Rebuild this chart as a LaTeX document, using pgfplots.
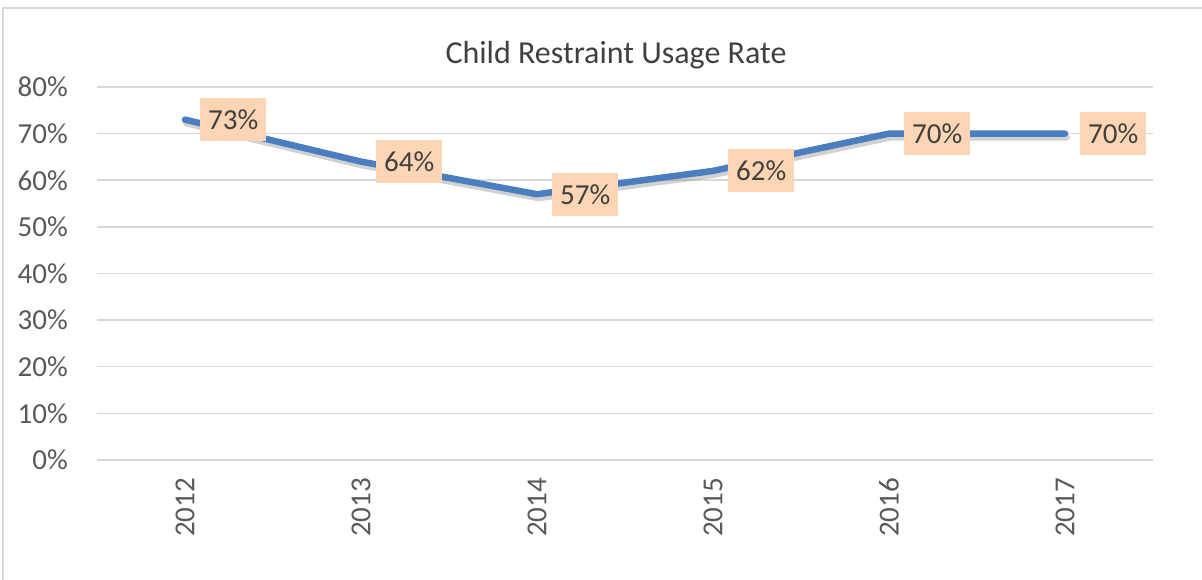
\documentclass[border=0pt]{standalone}
\usepackage{pgfplots}
\pgfplotsset{compat=1.18}
\usepackage{fontspec}
\setmainfont{Carlito}
\definecolor{lineblue}{HTML}{4A7EBE}
\definecolor{peach}{HTML}{FCD5B5}
\definecolor{gridgray}{HTML}{D9D9D9}
\definecolor{ticktext}{HTML}{595959}
\definecolor{labeltext}{HTML}{404040}
\begin{document}
\begin{tikzpicture}[x=1pt,y=1pt]
\path[use as bounding box] (-97,-120) rectangle (1105,460);
\draw[gridgray,line width=1.5pt] (-94,-125) -- (-94,452) -- (1110,452);
\begin{axis}[
  at={(0,0)}, anchor=south west,
  scale only axis, width=1056pt, height=373pt,
  xmin=-0.5, xmax=5.5, ymin=0, ymax=80,
  xtick={0,1,2,3,4,5},
  xticklabels={2012,2013,2014,2015,2016,2017},
  ytick={0,10,...,80},
  yticklabel={\pgfmathprintnumber{\tick}\%},
  /pgf/number format/assume math mode=true,
  major tick length=0pt,
  axis line style={draw=none},
  ymajorgrids, grid style={gridgray,line width=1.5pt},
  yticklabel shift=29pt, xticklabel shift=18pt,
  yticklabel style={anchor=east,inner sep=0pt,font=\fontsize{29}{34}\selectfont,text=ticktext},
  xticklabel style={rotate=90,anchor=east,inner sep=0pt,font=\fontsize{29}{34}\selectfont,text=ticktext},
  clip=false,
]
\addplot[black!40,opacity=0.45,line width=7pt,line cap=round,line join=round,forget plot,shift={(1.5pt,-3.5pt)}] coordinates {(0,73) (1,64) (2,57) (3,62) (4,70) (5,70)};
\addplot[lineblue,line width=6.5pt,line cap=round,line join=round,
  point meta=explicit symbolic,
  nodes near coords={\pgfplotspointmeta\%},
  every node near coord/.append style={anchor=west,xshift=12pt,fill=peach,text=labeltext,
    font=\fontsize{29}{34}\selectfont,inner xsep=8pt,minimum height=43pt,text depth=0pt}]
  coordinates {(0,73)[73] (1,64)[64] (2,57)[57] (3,62)[62] (4,70)[70] (5,70)[70]};
\end{axis}
\node[text=labeltext,font=\fontsize{32}{38}\selectfont] at (519,405) {Child Restraint Usage Rate};
\end{tikzpicture}
\end{document}
